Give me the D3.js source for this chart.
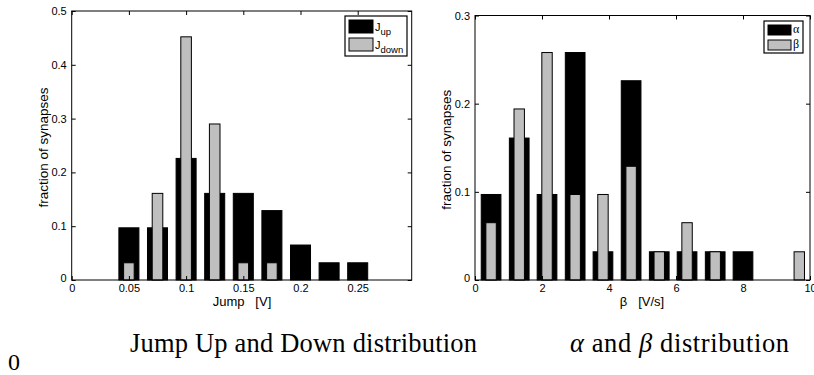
<!DOCTYPE html>
<html><head><meta charset="utf-8">
<script src="https://cdn.jsdelivr.net/npm/d3@7"></script>
<style>
body{margin:0;background:#fff;}
svg{display:block;}
text{white-space:pre;}
</style></head>
<body>
<svg id="chart" width="814" height="375"></svg>
<script>
// ---- Data (fraction of synapses, 31 synapses) ----
const jumpBins = [0.05, 0.075, 0.1, 0.125, 0.15, 0.175, 0.2, 0.225, 0.25];
const jumpUp   = [0.097, 0.097, 0.226, 0.161, 0.161, 0.129, 0.065, 0.032, 0.032];
const jumpDown = [0.032, 0.161, 0.452, 0.290, 0.032, 0.032, 0, 0, 0];
const jumpXTicks = [0, 0.05, 0.1, 0.15, 0.2, 0.25];
const jumpXTickLabels = ["0", "0.05", "0.1", "0.15", "0.2", "0.25"];
const jumpYTicks = [0, 0.1, 0.2, 0.3, 0.4, 0.5];

const abBins  = [0.48, 1.32, 2.15, 2.99, 3.82, 4.66, 5.50, 6.33, 7.17, 8.00, 8.84, 9.68];
const alphaV  = [0.097, 0.161, 0.097, 0.258, 0.032, 0.226, 0.032, 0.032, 0.032, 0.032, 0, 0];
const betaV   = [0.065, 0.194, 0.258, 0.097, 0.097, 0.129, 0.032, 0.065, 0.032, 0, 0, 0.032];
const abXTicks = [0, 2, 4, 6, 8, 10];
const abYTicks = [0, 0.1, 0.2, 0.3];

const svg = d3.select("#chart");
const sans = "'Liberation Sans', Arial, Helvetica, sans-serif";
const serif = "'Liberation Serif', 'Times New Roman', serif";
const GREY = "#bfbfbf";

function panel(o) {
  const x = d3.scaleLinear().domain(o.xDomain).range([o.left, o.right]);
  const y = d3.scaleLinear().domain(o.yDomain).range([o.bottom, o.top]);
  const g = svg.append("g");
  const step = x(o.bins[1]) - x(o.bins[0]);
  const wide = step * 0.70, narrow = step * 0.37;

  // bars
  g.selectAll("rect.a").data(o.bins.map((b, i) => [b, o.s1[i]]).filter(d => d[1] > 0))
    .join("rect").attr("class", "a")
    .attr("x", d => x(d[0]) - wide / 2).attr("width", wide)
    .attr("y", d => y(d[1])).attr("height", d => y(0) - y(d[1]))
    .attr("fill", "#000").attr("stroke", "#000").attr("stroke-width", 1);
  g.selectAll("rect.b").data(o.bins.map((b, i) => [b, o.s2[i]]).filter(d => d[1] > 0))
    .join("rect").attr("class", "b")
    .attr("x", d => x(d[0]) - narrow / 2).attr("width", narrow)
    .attr("y", d => y(d[1])).attr("height", d => y(0) - y(d[1]))
    .attr("fill", GREY).attr("stroke", "#000").attr("stroke-width", 1);

  // axes
  const fmtX = o.xLabels ? (d => o.xLabels[o.xTicks.indexOf(d)]) : d3.format("");
  const ax = g.append("g").attr("transform", `translate(0,${o.bottom})`)
    .call(d3.axisBottom(x).tickValues(o.xTicks).tickSize(-4).tickPadding(4).tickFormat(fmtX));
  const ay = g.append("g").attr("transform", `translate(${o.left},0)`)
    .call(d3.axisLeft(y).tickValues(o.yTicks).tickSize(-4).tickPadding(5).tickFormat(d3.format("")));
  const at = g.append("g").attr("transform", `translate(0,${o.top})`)
    .call(d3.axisTop(x).tickValues(o.xTicks).tickSize(-4).tickFormat(""));
  const ar = g.append("g").attr("transform", `translate(${o.right},0)`)
    .call(d3.axisRight(y).tickValues(o.yTicks).tickSize(-4).tickFormat(""));
  [ax, ay, at, ar].forEach(a => {
    a.select(".domain").remove();
    a.selectAll("line").attr("stroke", "#000");
    a.selectAll("text").attr("font-family", sans).attr("font-size", 11).attr("fill", "#000");
  });
  ay.selectAll(".tick").filter(d => d === 0).select("text").attr("dy", "0.1em");
  g.append("rect").attr("x", o.left).attr("y", o.top)
    .attr("width", o.right - o.left).attr("height", o.bottom - o.top)
    .attr("fill", "none").attr("stroke", "#000").attr("stroke-width", 1);

  // axis titles
  g.append("text").attr("x", o.xTitleX).attr("y", 306).attr("text-anchor", "middle")
    .attr("font-family", sans).attr("font-size", 13).text(o.xTitle);
  g.append("text").attr("transform", `translate(${o.left - 24},${(o.top + o.bottom) / 2 + 2}) rotate(-90)`)
    .attr("text-anchor", "middle").attr("font-family", sans).attr("font-size", 13.5)
    .text("fraction of synapses");

  // legend
  const L = o.legend;
  g.append("rect").attr("x", L.x).attr("y", L.y).attr("width", L.w).attr("height", L.h)
    .attr("fill", "#fff").attr("stroke", "#000").attr("stroke-width", 1.2);
  L.items.forEach((it, i) => {
    g.append("rect").attr("x", L.x + 4).attr("y", L.y + 4 + i * L.rowH)
      .attr("width", L.sw).attr("height", L.rowH - 5)
      .attr("fill", it.fill).attr("stroke", "#000");
    const t = g.append("text").attr("x", L.x + 6 + L.sw).attr("y", L.y + L.rowH - 3 + i * L.rowH)
      .attr("font-family", it.serif ? serif : sans).attr("font-size", it.fs || 11);
    t.append("tspan").text(it.main);
    if (it.sub) t.append("tspan").attr("dy", 4).attr("font-size", 9.5).text(it.sub);
  });
}

panel({
  left: 71.7, right: 411.7, top: 11, bottom: 280,
  xDomain: [0, 0.2972], yDomain: [0, 0.5],
  bins: jumpBins, s1: jumpUp, s2: jumpDown,
  xTicks: jumpXTicks, xLabels: jumpXTickLabels, yTicks: jumpYTicks,
  xTitle: "Jump   [V]", xTitleX: 242,
  legend: { x: 345, y: 16, w: 62, h: 40, rowH: 18, sw: 24,
    items: [{ fill: "#000", main: "J", sub: "up" }, { fill: GREY, main: "J", sub: "down" }] }
});

panel({
  left: 475, right: 810, top: 15.5, bottom: 280,
  xDomain: [0, 10], yDomain: [0, 0.3],
  bins: abBins, s1: alphaV, s2: betaV,
  xTicks: abXTicks, yTicks: abYTicks,
  xTitle: "β   [V/s]", xTitleX: 642,
  legend: { x: 764, y: 21, w: 39, h: 32, rowH: 15, sw: 23,
    items: [{ fill: "#000", main: "α", serif: true, fs: 12 }, { fill: GREY, main: "β", serif: true, fs: 12 }] }
});

// captions
svg.append("text").attr("x", 130).attr("y", 352).attr("font-family", serif).attr("font-size", 26.5)
  .attr("textLength", 347).attr("lengthAdjust", "spacing")
  .text("Jump Up and Down distribution");
const cap2 = svg.append("text").attr("x", 570).attr("y", 352).attr("font-family", serif).attr("font-size", 26.5)
  .attr("textLength", 219).attr("lengthAdjust", "spacing");
cap2.append("tspan").attr("font-style", "italic").text("α");
cap2.append("tspan").text(" and ");
cap2.append("tspan").attr("font-style", "italic").text("β");
cap2.append("tspan").text(" distribution");
svg.append("text").attr("x", 8).attr("y", 370).attr("font-family", serif).attr("font-size", 24).text("0");
</script>
</body></html>
